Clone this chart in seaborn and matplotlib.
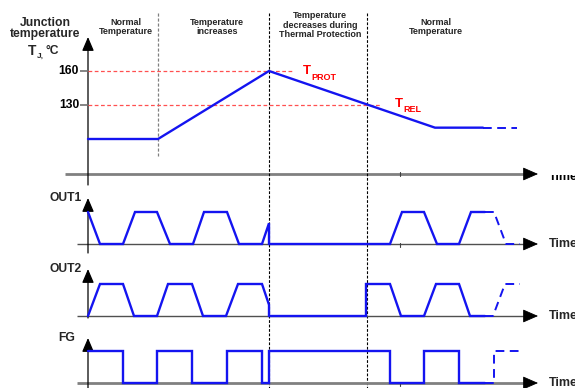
import matplotlib
matplotlib.use("Agg")
import matplotlib.pyplot as plt
import seaborn as sns
from matplotlib.transforms import Bbox

# ---------------- data ----------------
phase_labels = ["Normal\nTemperature", "Temperature\nincreases",
                "Temperature\ndecreases during\nThermal Protection",
                "Normal\nTemperature"]
phase_bounds = [70, 181, 279]          # time of phase changes
temp_ticks = [160, 130]
t_prot, t_rel = 160, 130

temp_t = [0, 70, 181, 347, 395]
temp_v = [100, 100, 160, 110, 110]
temp_tail_t = [395, 429]
temp_tail_v = [110, 110]

out1_t = [0, 12, 35, 47, 69, 82, 105, 116, 139, 151, 174, 181, 181,
          302, 314, 336, 349, 371, 383, 397]
out1_v = [1, 0, 0, 1, 1, 0, 0, 1, 1, 0, 0, 0.65, 0,
          0, 1, 1, 0, 0, 1, 1]
out1_tail_t = [397, 406, 418, 432]
out1_tail_v = [1, 1, 0, 0]

out2_t = [0, 12, 35, 46, 69, 80, 104, 115, 138, 150, 174, 181, 181,
          278, 278, 302, 313, 336, 348, 371, 382, 397]
out2_v = [0, 1, 1, 0, 0, 1, 1, 0, 0, 1, 1, 0.35, 0,
          0, 1, 1, 0, 0, 1, 1, 0, 0]
out2_tail_t = [397, 405, 417, 432]
out2_tail_v = [0, 0, 1, 1]

fg_t = [0, 35, 35, 69, 69, 104, 104, 139, 139, 174, 174, 181, 181,
        302, 302, 336, 336, 371, 371, 397]
fg_v = [1, 1, 0, 0, 1, 1, 0, 0, 1, 1, 0, 0, 1,
        1, 0, 0, 1, 1, 0, 0]
fg_tail_t = [397, 406, 406, 432]
fg_tail_v = [0, 0, 1, 1]

signal_names = ["OUT1", "OUT2", "FG"]

# ---------------- style ----------------
sns.set_theme(style="white")
plt.rcParams["font.family"] = ["Liberation Sans", "DejaVu Sans"]

BLUE = "#1414f0"
RED = "#ff0000"
W, H = 575, 388
X0 = 88                 # pixel of time origin
K = 34 / 30             # px per degree

fig = plt.figure(figsize=(W / 100, H / 100), dpi=100)
fig.patch.set_facecolor("white")

# background/annotation axes in pixel space
bg = fig.add_axes([0, 0, 1, 1])
bg.set_xlim(0, W)
bg.set_ylim(H, 0)
bg.axis("off")


def overlay(ylim):
    ax = fig.add_axes([0, 0, 1, 1])
    ax.set_xlim(-X0, W - X0)
    ax.set_ylim(*ylim)
    ax.axis("off")
    ax.patch.set_alpha(0)
    return ax


ax_t = overlay((130 - (H - 105) / K, 130 + 105 / K))
bases = [244, 316, 383]
sig_axes = [overlay(((b - H) / 32, b / 32)) for b in bases]


def wave(ax, t, v, dashed=False):
    kw = dict(linestyle=(0, (4.5, 2.8)), lw=1.4) if dashed else dict(lw=1.7)
    sns.lineplot(x=t, y=v, ax=ax, sort=False, estimator=None,
                 color=BLUE, legend=False, solid_joinstyle="miter", **kw)


# ---------- top panel ----------
# reference lines
ax_t.hlines(t_prot, 0, 204, colors="#ff5050", lw=0.9, linestyles=(0, (3, 2)))
ax_t.hlines(t_rel, 0, 292, colors="#ff5050", lw=0.9, linestyles=(0, (3, 2)))
for v in temp_ticks:
    ax_t.hlines(v, -8, 0, colors="#707070", lw=1.2)
    ax_t.text(-9, v, str(v), ha="right", va="center", fontsize=8.7,
              fontweight="bold", color="black")

wave(ax_t, temp_t, temp_v)
wave(ax_t, temp_tail_t, temp_tail_v, dashed=True)

# time axis of top panel
bg.plot([65, 531], [174, 174], color="#808080", lw=2.0, solid_capstyle="butt")
bg.plot([400, 400], [172, 176], color="#404040", lw=0.8)
bg.annotate("", xy=(538, 174), xytext=(528, 174),
            arrowprops=dict(arrowstyle="-|>,head_length=0.8,head_width=0.35",
                            color="black", lw=0.6, shrinkA=0, shrinkB=0))
# y axis of top panel
bg.annotate("", xy=(X0, 37), xytext=(X0, 185),
            arrowprops=dict(arrowstyle="-|>,head_length=0.7,head_width=0.3",
                            color="black", lw=0.9, shrinkA=0, shrinkB=0))
# "Time" label at top, only its lower strip is visible (as in the reference)
tt = bg.text(549, 180.5, "Time", ha="left", va="baseline", fontsize=9,
             fontweight="bold", color="black")
tt.set_clip_on(True)
tt.set_clip_box(Bbox([[540, H - 181], [W, H - 175]]))

# y label
bg.text(45, 26.5, "Junction", ha="center", va="baseline", fontsize=8.7,
        fontweight="bold")
bg.text(45, 37.5, "temperature", ha="center", va="baseline", fontsize=8.7,
        fontweight="bold")
bg.text(28, 55, "T", ha="left", va="baseline", fontsize=10, fontweight="bold")
bg.text(36.5, 58, "J,", ha="left", va="baseline", fontsize=6,
        fontweight="bold")
bg.text(46, 54.5, "°C", ha="left", va="baseline", fontsize=8.7,
        fontweight="bold")

# T_PROT / T_REL labels
bg.text(303, 74, "T", color=RED, fontsize=9.5, fontweight="bold",
        va="baseline")
bg.text(311.5, 80, "PROT", color=RED, fontsize=6.5, fontweight="bold",
        va="baseline")
bg.text(395, 106.7, "T", color=RED, fontsize=9.5, fontweight="bold",
        va="baseline")
bg.text(403.5, 111.5, "REL", color=RED, fontsize=6.5, fontweight="bold",
        va="baseline")

# phase labels
label_pos = [(125.5, 18), (217, 18), (320, 11.5), (436, 18)]
for (x, y), lab in zip(label_pos, phase_labels):
    bg.text(x, y, lab, ha="center", va="top", fontsize=6.5,
            fontweight="bold", linespacing=1.05)

# phase boundaries
bg.vlines(X0 + phase_bounds[0], 13, 156, colors="#808080", lw=0.9,
          linestyles=(0, (2.5, 1.5)))
for b in phase_bounds[1:]:
    bg.vlines(X0 + b, 13, H, colors="black", lw=0.8,
              linestyles=(0, (2.5, 1.5)))

# ---------- signal panels ----------
sig_data = [(out1_t, out1_v, out1_tail_t, out1_tail_v),
            (out2_t, out2_v, out2_tail_t, out2_tail_v),
            (fg_t, fg_v, fg_tail_t, fg_tail_v)]
axis_style = [("#505050", 1.0), ("#505050", 1.0), ("#808080", 2.0)]
y_top = [198, 269, 338]
y_bot = [253, 318, 390]
name_x = [82, 82, 75]

for ax, base, (t, v, tt_, tv), (col, lw), yt, yb, nm, nx in zip(
        sig_axes, bases, sig_data, axis_style, y_top, y_bot,
        signal_names, name_x):
    bg.plot([77, 531], [base, base], color=col, lw=lw, solid_capstyle="butt")
    bg.annotate("", xy=(538, base), xytext=(528, base),
                arrowprops=dict(arrowstyle="-|>,head_length=0.8,head_width=0.35",
                                color="black", lw=0.6, shrinkA=0, shrinkB=0))
    bg.annotate("", xy=(X0, yt), xytext=(X0, yb),
                arrowprops=dict(arrowstyle="-|>,head_length=0.7,head_width=0.3",
                                color="black", lw=0.9, shrinkA=0, shrinkB=0))
    bg.text(549, base, "Time", ha="left", va="center", fontsize=9,
            fontweight="bold")
    bg.text(nx, yt, nm, ha="right", va="center", fontsize=8.7,
            fontweight="bold")
    wave(ax, t, v)
    wave(ax, tt_, tv, dashed=True)

for base in (bases[0], bases[2]):
    bg.plot([400, 400], [base - 1, base + 3], color="#404040", lw=0.8)

fig.savefig("out.png", dpi=100, facecolor="white")
